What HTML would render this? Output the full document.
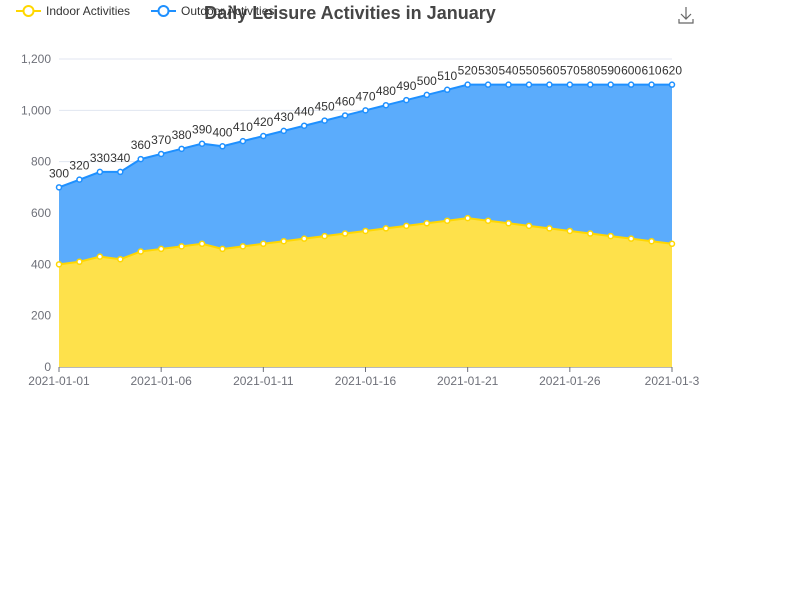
<!DOCTYPE html>
<html><head><meta charset="utf-8"><style>
body{margin:0;background:#fff;width:800px;height:600px;overflow:hidden;font-family:"Liberation Sans",sans-serif}
</style></head><body>
<svg width="800" height="600">
<g id="grid"></g>
<g id="areas"></g>
<g id="labels"></g>
<g id="xaxis"></g>
<text x="350" y="19" text-anchor="middle" font-size="18" font-weight="bold" fill="#464646">Daily Leisure Activities in January</text>
<g>
<line x1="16" y1="11" x2="41" y2="11" stroke="#FFD700" stroke-width="2"/><circle cx="28.5" cy="11" r="5" fill="#fff" stroke="#FFD700" stroke-width="2"/>
<text x="46" y="15" font-size="12" fill="#333">Indoor Activities</text></g>
<g>
<line x1="151" y1="11" x2="176" y2="11" stroke="#1E90FF" stroke-width="2"/><circle cx="163.5" cy="11" r="5" fill="#fff" stroke="#1E90FF" stroke-width="2"/>
<text x="181" y="15" font-size="12" fill="#333">Outdoor Activities</text></g>
<g stroke="#666" fill="none" stroke-width="1.2">
<path d="M686 7v12M681 14l5 5 5-5M679 19v4h14v-4"/></g>
</svg>
<script>
const categories=[];for(let d=1;d<=31;d++)categories.push('2021-01-'+String(d).padStart(2,'0'));
const indoor=[400,410,430,420,450,460,470,480,460,470,480,490,500,510,520,530,540,550,560,570,580,570,560,550,540,530,520,510,500,490,480];
const outdoor=[300,320,330,340,360,370,380,390,400,410,420,430,440,450,460,470,480,490,500,510,520,530,540,550,560,570,580,590,600,610,620];
const yTicks=[0,200,400,600,800,1000,1200];
const NS='http://www.w3.org/2000/svg';
const x0=59,x1=672,y0=367,y1=59,ymax=1200;
const X=i=>x0+(x1-x0)*i/(categories.length-1);
const Y=v=>y0-(y0-y1)*v/ymax;
function mk(t,a,p){const e=document.createElementNS(NS,t);for(const k in a)e.setAttribute(k,a[k]);p.appendChild(e);return e;}
const grid=document.getElementById('grid');
yTicks.forEach(v=>{
 const l=mk('line',{x1:x0,x2:x1,y1:Y(v),y2:Y(v),stroke:v===0?'#6E7079':'#E0E6F1'},grid);
 
 
 const t=mk('text',{x:51,y:Y(v)+4,'text-anchor':'end','font-size':12,fill:'#6E7079'},grid);
 t.textContent=v.toLocaleString('en-US');
 
 
});
const tot=indoor.map((v,i)=>v+outdoor[i]);
const areas=document.getElementById('areas');
const pts=a=>a.map((v,i)=>X(i)+','+Y(v)).join(' ');
const a2=mk('polygon',{points:pts(tot)+' '+indoor.map((v,i)=>X(i)+','+Y(v)).reverse().join(' '),fill:'#5BACFC'},areas);


const a1=mk('polygon',{points:pts(indoor)+` ${X(30)},${y0} ${x0},${y0}`,fill:'#FEE14B'},areas);


[[indoor,'#FFD700','indoor'],[tot,'#1E90FF','outdoor']].forEach(([d,c,n])=>{
 const l=mk('polyline',{points:pts(d),fill:'none',stroke:c,'stroke-width':2},areas);
 
 
 d.forEach((v,i)=>{const p=mk('circle',{cx:X(i),cy:Y(v),r:2.5,fill:'#fff',stroke:c,'stroke-width':1.5},areas);
 
 });
});
const lab=document.getElementById('labels');
outdoor.forEach((v,i)=>{const t=mk('text',{x:X(i),y:Y(tot[i])-10,'text-anchor':'middle','font-size':12,fill:'#333'},lab);t.textContent=v;
 
 });
const xa=document.getElementById('xaxis');
categories.forEach((c,i)=>{if(i%5)return;
 mk('line',{x1:X(i),x2:X(i),y1:y0,y2:y0+5,stroke:'#6E7079'},xa);
 const t=mk('text',{x:X(i),y:y0+18,'text-anchor':'middle','font-size':12,fill:'#6E7079'},xa);
 t.textContent=i===30?c.slice(0,9):c;
 
 });
</script>
</body></html>
